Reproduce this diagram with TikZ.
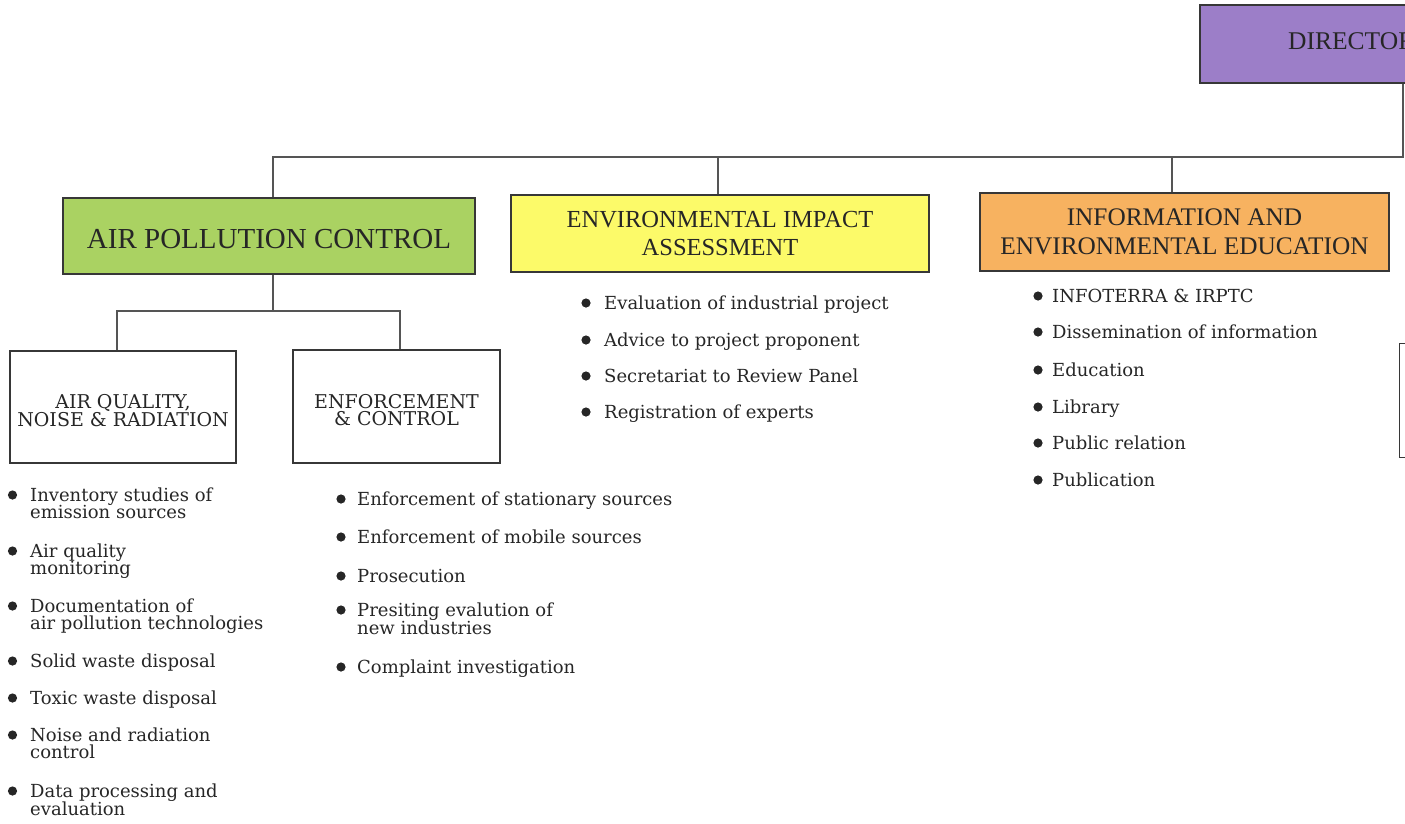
\documentclass[tikz,border=0pt]{standalone}
\usepackage{fontspec}
\setmainfont{DejaVu Serif}
\newfontfamily\hdfont{Liberation Serif}
\setlength{\lineskiplimit}{-20pt}
\definecolor{apcgreen}{RGB}{170,210,98}
\definecolor{eiayellow}{RGB}{252,250,105}
\definecolor{ieeorange}{RGB}{247,178,96}
\definecolor{dirpurple}{RGB}{156,126,200}
\definecolor{edgec}{RGB}{55,55,55}
\definecolor{connc}{RGB}{85,85,85}
\definecolor{txtc}{RGB}{38,38,38}
\tikzset{
  hbox/.style={draw=edgec, line width=1.6pt, text=txtc, inner sep=0pt, align=center},
  subbox/.style={draw=edgec, line width=1.2pt, fill=white, text=txtc, inner sep=0pt, align=center,
    font=\fontsize{19}{17.5}\selectfont},
  conn/.style={draw=connc, line width=1.3pt},
  itm/.style={anchor=base west, inner sep=0pt, text=txtc, font=\fontsize{18}{17.6}\selectfont},
  bulc/.style={fill=txtc}
}
\newcommand\bitem[5]{%
  \node[itm] (#1) at (#2,#3) {\parbox[t]{330pt}{\raggedright #5}};
  \fill[bulc] ([xshift=-#4pt,yshift=6pt]#1.base west) circle (4.6pt);}
\begin{document}
\begin{tikzpicture}[x=1pt,y=-1pt]
\useasboundingbox (0,0) rectangle (1405,823);
\clip (0,0) rectangle (1405,823);

% director
\node[hbox, fill=dirpurple, anchor=north west, minimum width=420, minimum height=78] (dir) at (1199,4) {};
\node[anchor=west, inner sep=0pt, text=txtc, font=\hdfont\fontsize{25.5}{27}\selectfont] (dirtxt) at (1288,41) {DIRECTOR};

% main boxes
\node[hbox, fill=apcgreen, minimum width=412, minimum height=76,
  font=\hdfont\fontsize{29}{30}\selectfont] (apc) at (269,236) {\rule{0pt}{26pt}AIR POLLUTION CONTROL};
\node[hbox, fill=eiayellow, minimum width=418, minimum height=77,
  font=\hdfont\fontsize{24.5}{28}\selectfont] (eia) at (720,233.5) {ENVIRONMENTAL IMPACT\\ASSESSMENT};
\node[hbox, fill=ieeorange, minimum width=409, minimum height=78,
  font=\hdfont\fontsize{25.3}{29}\selectfont] (iee) at (1184.5,232) {INFORMATION AND\\ENVIRONMENTAL EDUCATION};

% sub boxes
\node[subbox, minimum width=226, minimum height=112] (aq) at (123,407) {\rule{0pt}{21pt}AIR QUALITY,\\NOISE \& RADIATION};
\node[subbox, minimum width=207, minimum height=113] (ec) at (396.5,406.5) {\rule{0pt}{21pt}ENFORCEMENT\\\& CONTROL};
\node[subbox, anchor=north west, minimum width=200, minimum height=114] (rbox) at (1399,343) {};

% connectors
\coordinate (dj) at (1403,157);
\coordinate (b1) at (273,157);
\coordinate (b2) at (718,157);
\coordinate (b3) at (1172,157);
\draw[conn] (dir.south -| dj) -- (dj) -- (b1) -- (b1 |- apc.north);
\draw[conn] (b2) -- (b2 |- eia.north);
\draw[conn] (b3) -- (b3 |- iee.north);
\coordinate (s0) at (273,311);
\coordinate (s1) at (117,311);
\coordinate (s2) at (400,311);
\draw[conn] (apc.south -| s0) -- (s0);
\draw[conn] (s1 |- aq.north) -- (s1) -- (s2) -- (s2 |- ec.north);

% EIA items
\bitem{e1}{604}{309}{18}{Evaluation of industrial project}
\bitem{e2}{604}{346}{18}{Advice to project proponent}
\bitem{e3}{604}{382}{18}{Secretariat to Review Panel}
\bitem{e4}{604}{418}{18}{Registration of experts}

% IEE items
\bitem{i1}{1052}{302}{14}{INFOTERRA \& IRPTC}
\bitem{i2}{1052}{338}{14}{Dissemination of information}
\bitem{i3}{1052}{376}{14}{Education}
\bitem{i4}{1052}{413}{14}{Library}
\bitem{i5}{1052}{449}{14}{Public relation}
\bitem{i6}{1052}{486}{14}{Publication}

% AQ items
\bitem{a1}{30}{501}{17.5}{Inventory studies of\\emission sources}
\bitem{a2}{30}{557}{17.5}{Air quality\\monitoring}
\bitem{a3}{30}{612}{17.5}{Documentation of\\air pollution technologies}
\bitem{a4}{30}{667}{17.5}{Solid waste disposal}
\bitem{a5}{30}{704}{17.5}{Toxic waste disposal}
\bitem{a6}{30}{741}{17.5}{Noise and radiation\\control}
\bitem{a7}{30}{797}{17.5}{Data processing and\\evaluation}

% EC items
\bitem{c1}{357}{505}{16}{Enforcement of stationary sources}
\bitem{c2}{357}{543}{16}{Enforcement of mobile sources}
\bitem{c3}{357}{582}{16}{Prosecution}
\bitem{c4}{357}{616}{16}{Presiting evalution of\\new industries}
\bitem{c5}{357}{673}{16}{Complaint investigation}
\end{tikzpicture}
\end{document}
